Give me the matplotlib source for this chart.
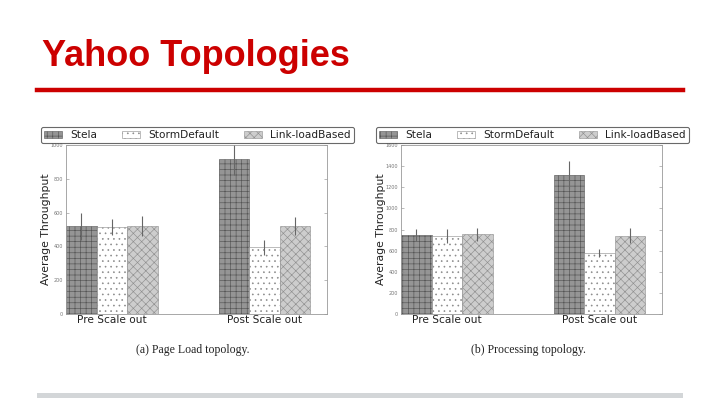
import numpy as np
import matplotlib
matplotlib.use("Agg")
import matplotlib.pyplot as plt

groups = ["Pre Scale out", "Post Scale out"]
series = ["Stela", "StormDefault", "Link-loadBased"]

# (a) Page Load topology
page_vals = [[520, 920], [515, 395], [520, 520]]
page_err = [[80, 100], [48, 45], [58, 55]]
page_ticks = [0, 200, 400, 600, 800, 1000]

# (b) Processing topology
proc_vals = [[750, 1316], [740, 578], [753, 740]]
proc_err = [[55, 135], [65, 40], [65, 70]]
proc_ticks = [0, 200, 400, 600, 800, 1000, 1200, 1400, 1600]

captions = ["(a) Page Load topology.", "(b) Processing topology."]

face = ["#959595", "white", "#cdcdcd"]
edge = ["#555555", "#8a8a8a", "#8f8f8f"]
hatch = ["+++", "...", "xxxx"]

plt.rcParams['hatch.linewidth'] = 0.45
fig = plt.figure(figsize=(7.2, 4.05), dpi=100)

fig.text(42 / 720, 1 - 56 / 405, "Yahoo Topologies", color="#cc0000", fontsize=26,
         fontweight="bold", family="Liberation Sans", va="center", ha="left")
fig.add_artist(plt.Line2D([37 / 720, 683 / 720], [1 - 90 / 405] * 2, color="#cc0000", lw=3.2))
fig.add_artist(plt.Rectangle((37 / 720, 1 - 398 / 405), 646 / 720, 5 / 405, color="#d3d6d8", lw=0))


def panel(left, vals, errs, ticks, cap, leg_left):
    ax = fig.add_axes([left / 720, 1 - 314 / 405, 261 / 720, 169 / 405])
    x = np.arange(len(groups))
    w = 0.2
    for i, name in enumerate(series):
        ax.bar(x - w + i * w, vals[i], w, yerr=errs[i], color=face[i], edgecolor=edge[i],
               hatch=hatch[i], linewidth=0.4, label=name,
               error_kw=dict(ecolor="#666666", elinewidth=0.8, capsize=0))
    ax.set_xlim(-0.3, 1.41)
    ax.set_ylim(ticks[0], ticks[-1])
    ax.set_yticks(ticks)
    ax.set_yticklabels([str(t) for t in ticks], fontsize=3.5, color="#777777")
    ax.set_xticks(x)
    ax.set_xticklabels(groups, fontsize=7.6, color="#222222")
    ax.tick_params(axis="y", direction="in", length=2, width=0.4, color="#888888",
                   right=True, pad=2)
    ax.tick_params(axis="x", length=0, pad=1)
    for s in ax.spines.values():
        s.set_color("#999999")
        s.set_linewidth(0.6)
    ax.set_ylabel("Average Throughput", fontsize=7.8, color="#222222", labelpad=0)
    leg = ax.legend(loc="center", ncol=3, fontsize=7.6,
                    bbox_to_anchor=(leg_left / 720, 1 - 143 / 405, 311 / 720, 16 / 405),
                    bbox_transform=fig.transFigure, frameon=True, fancybox=True,
                    borderpad=0.3, handlelength=1.7, handleheight=0.6, columnspacing=2.3,
                    handletextpad=0.8, borderaxespad=0)
    leg.get_frame().set_edgecolor("#444444")
    leg.get_frame().set_linewidth(0.8)
    for t in leg.get_texts():
        t.set_color("#222222")
    fig.text((left + 127) / 720, 1 - 350 / 405, cap, fontsize=8.5,
             family="Liberation Serif", ha="center", va="center", color="#222222")
    return ax


panel(66, page_vals, page_err, page_ticks, captions[0], 42)
panel(401, proc_vals, proc_err, proc_ticks, captions[1], 377)

fig.savefig("out.png", dpi=100, facecolor="white")
